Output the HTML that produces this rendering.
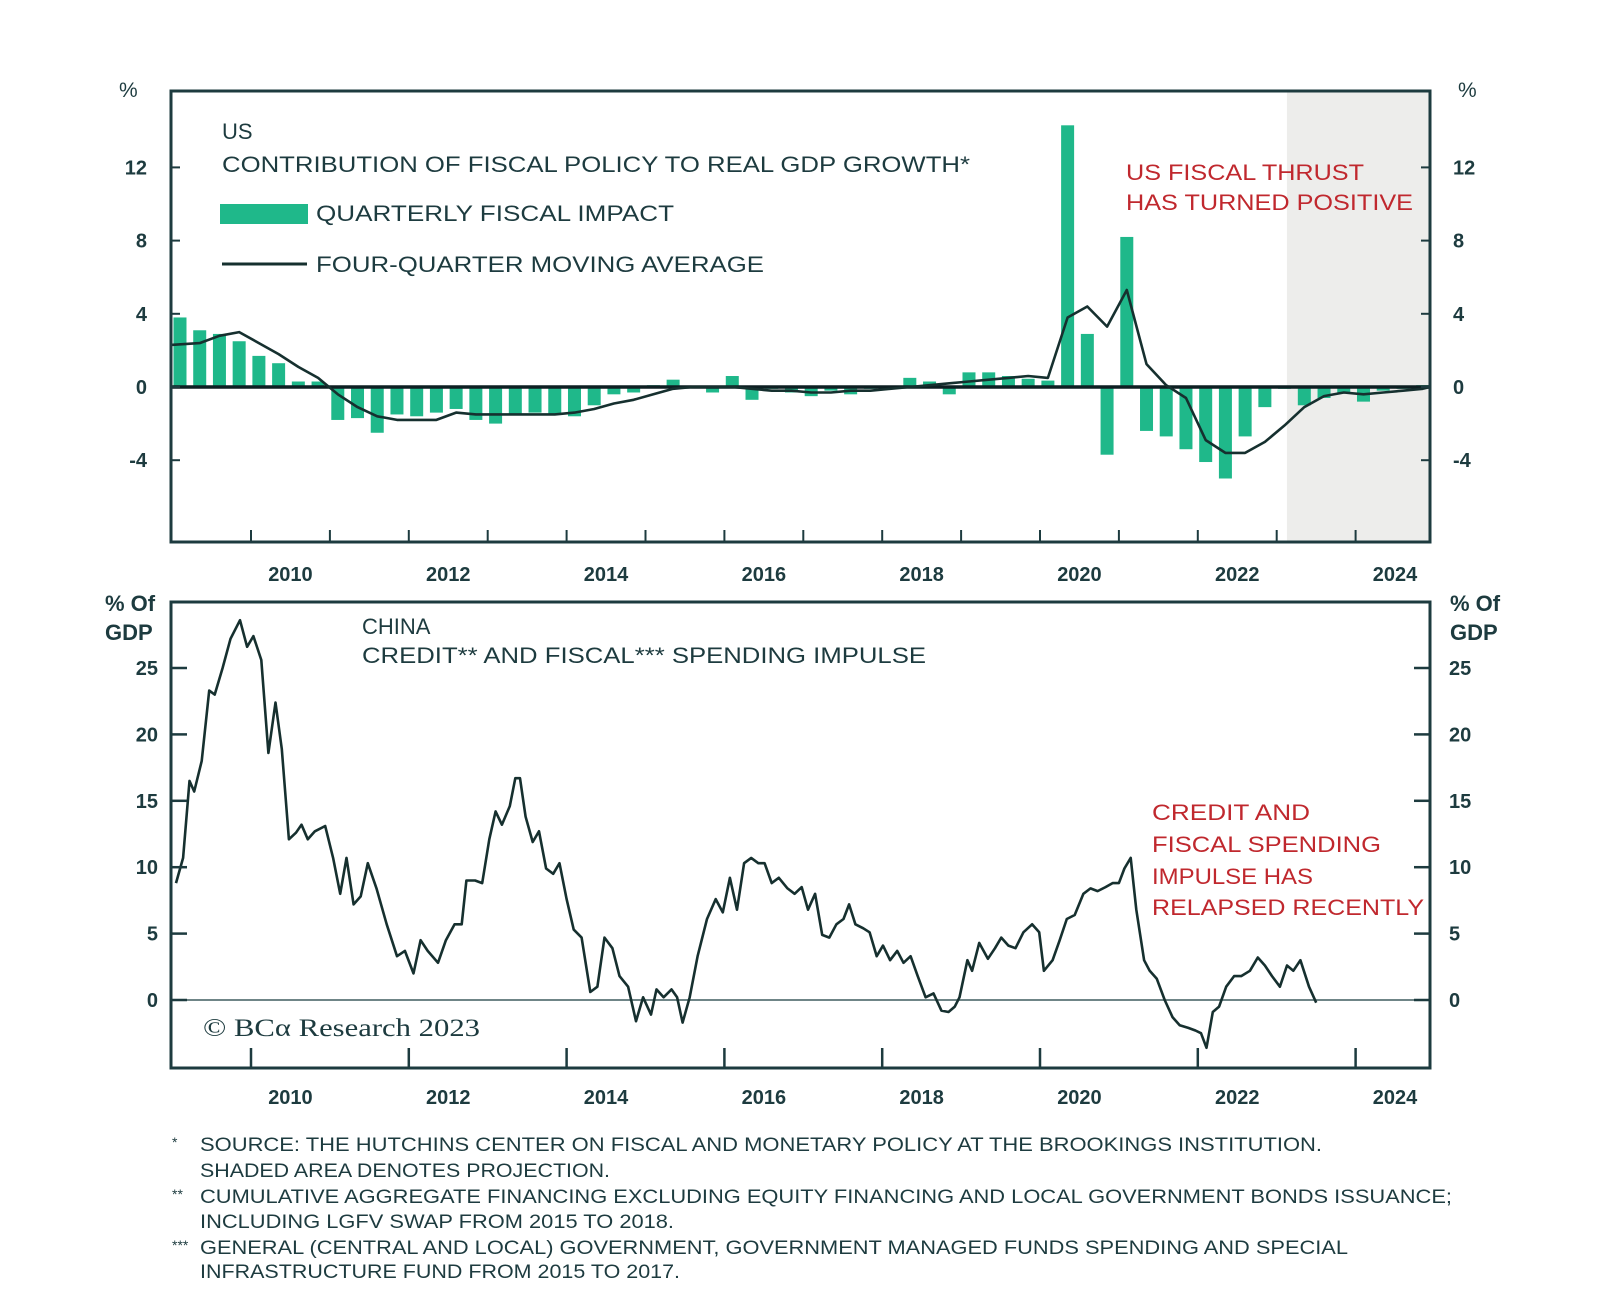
<!DOCTYPE html>
<html><head><meta charset="utf-8"><style>
html,body{margin:0;padding:0;background:#fff;}
svg{display:block;font-family:"Liberation Sans",sans-serif;}
</style></head><body>
<svg id="chart" width="1600" height="1304" viewBox="0 0 1600 1304">
<g id="topPanel"></g>
<g id="botPanel"></g>
</svg>
<script>
// ---------- US data (quarterly, 2009Q1 .. 2024Q4)
const usStartYear = 2009;
const usBars = [3.8,3.1,2.9,2.5, 1.7,1.3,0.3,0.3, -1.8,-1.7,-2.5,-1.5, -1.6,-1.4,-1.2,-1.8,
 -2.0,-1.5,-1.4,-1.5, -1.6,-1.0,-0.4,-0.3, 0.1,0.4,0.0,-0.3, 0.6,-0.7,-0.1,-0.3,
 -0.5,-0.2,-0.4,-0.1, -0.1,0.5,0.3,-0.4, 0.8,0.8,0.6,0.45, 0.35,14.3,2.9,-3.7,
 8.2,-2.4,-2.7,-3.4, -4.1,-5.0,-2.7,-1.1, -0.1,-1.0,-0.6,-0.3, -0.8,-0.2,-0.1,0.1];
const usAvg = [2.3,2.4,2.8,3.0, 2.4,1.8,1.1,0.5, -0.4,-1.1,-1.6,-1.8, -1.8,-1.8,-1.4,-1.5,
 -1.5,-1.5,-1.5,-1.5, -1.4,-1.2,-0.9,-0.7, -0.4,-0.1,0.0,0.0, 0.0,-0.1,-0.2,-0.2,
 -0.3,-0.3,-0.2,-0.2, -0.1,0.0,0.1,0.2, 0.3,0.4,0.5,0.6, 0.5,3.8,4.4,3.3,
 5.3,1.25,0.1,-0.6, -2.9,-3.6,-3.6,-3.0, -2.1,-1.1,-0.5,-0.3, -0.4,-0.3,-0.2,-0.1];
const usYTicks = [12,8,4,0,-4];
const yearLabels = [2010,2012,2014,2016,2018,2020,2022,2024];
const projectionStart = 2023.13;

// ---------- China data
const cnDates = [2009.05,2009.14,2009.22,2009.28,2009.375,2009.47,2009.54,2009.64,2009.74,2009.86,2009.95,2010.03,2010.13,2010.22,2010.31,2010.39,2010.48,2010.57,2010.64,2010.72,2010.81,2010.94,2011.04,2011.13,2011.21,2011.30,2011.39,2011.48,2011.59,2011.72,2011.85,2011.95,2012.06,2012.15,2012.24,2012.37,2012.47,2012.58,2012.67,2012.73,2012.84,2012.93,2013.02,2013.10,2013.18,2013.28,2013.35,2013.41,2013.48,2013.57,2013.65,2013.74,2013.83,2013.91,2014.00,2014.09,2014.19,2014.30,2014.39,2014.48,2014.58,2014.67,2014.78,2014.88,2014.97,2015.07,2015.14,2015.23,2015.33,2015.40,2015.47,2015.56,2015.66,2015.78,2015.89,2015.98,2016.07,2016.16,2016.25,2016.34,2016.43,2016.51,2016.60,2016.69,2016.80,2016.89,2016.98,2017.06,2017.15,2017.24,2017.33,2017.42,2017.51,2017.58,2017.66,2017.76,2017.84,2017.93,2018.01,2018.10,2018.19,2018.27,2018.36,2018.45,2018.55,2018.65,2018.75,2018.84,2018.92,2018.98,2019.08,2019.14,2019.23,2019.34,2019.43,2019.51,2019.60,2019.69,2019.79,2019.90,2019.99,2020.05,2020.16,2020.25,2020.34,2020.44,2020.55,2020.64,2020.73,2020.83,2020.92,2021.00,2021.07,2021.15,2021.22,2021.32,2021.39,2021.48,2021.58,2021.68,2021.77,2021.88,2021.97,2022.04,2022.11,2022.19,2022.27,2022.36,2022.46,2022.55,2022.66,2022.76,2022.85,2022.94,2023.04,2023.13,2023.21,2023.30,2023.41,2023.50];
const cnValues = [8.8,10.7,16.5,15.7,18,23.3,23,25,27.2,28.6,26.6,27.4,25.6,18.6,22.4,18.9,12.1,12.6,13.2,12.1,12.7,13.1,10.7,8,10.7,7.2,7.8,10.3,8.4,5.7,3.3,3.7,2,4.5,3.7,2.8,4.5,5.7,5.7,9,9,8.8,12.1,14.2,13.2,14.6,16.7,16.7,13.8,11.9,12.7,9.9,9.5,10.3,7.6,5.3,4.7,0.6,1,4.7,3.9,1.8,1,-1.6,0.2,-1.1,0.8,0.2,0.8,0.2,-1.7,0.2,3.3,6.1,7.6,6.6,9.2,6.8,10.3,10.7,10.3,10.3,8.8,9.2,8.4,8,8.5,6.8,8,4.9,4.7,5.7,6.1,7.2,5.7,5.4,5.1,3.3,4.1,3,3.7,2.8,3.3,1.8,0.2,0.5,-0.8,-0.9,-0.5,0.2,3,2.2,4.3,3.1,3.9,4.7,4.1,3.9,5.1,5.7,5.1,2.2,3,4.5,6.1,6.4,8,8.4,8.2,8.5,8.8,8.8,9.9,10.7,6.8,3,2.2,1.6,0,-1.3,-1.9,-2.1,-2.3,-2.5,-3.6,-0.9,-0.5,1,1.8,1.8,2.2,3.2,2.6,1.8,1,2.6,2.2,3,1,-0.2];
const cnYTicks = [25,20,15,10,5,0];

const NS='http://www.w3.org/2000/svg';
const INK='#1d3b3f', GREEN='#1fb88a', RED='#c0282e';
function mk(parent,tag,attrs,text){const el=document.createElementNS(NS,tag);for(const k in attrs)el.setAttribute(k,attrs[k]);if(text!==undefined)el.textContent=text;parent.appendChild(el);return el;}

const L=171, R=1430;
const xT = t => 251 + (t-2010)*78.9;
const yT = v => 387 - v*18.3;
const yB = v => 1000 - v*13.28;
const TT=91, TB=542, BT=602, BB=1068;

const svgRoot=document.getElementById('chart');
const topG=document.getElementById('topPanel');
const botG=document.getElementById('botPanel');
let e;

// ===== TOP PANEL
e=mk(topG,'rect',{x:xT(projectionStart),y:TT,width:R-xT(projectionStart),height:TB-TT,fill:'#ededeb'});


usBars.forEach((v,i)=>{
  const t=usStartYear+i*0.25+0.1;
  const y0=yT(0), y1=yT(v);
  const b=mk(topG,'rect',{x:xT(t)-6.5,y:Math.min(y0,y1),width:13,height:Math.abs(y1-y0),fill:GREEN});
  
  
});
e=mk(topG,'line',{x1:L,x2:R,y1:yT(0),y2:yT(0),stroke:'#0d1f22','stroke-width':3.5});


const avgPts=usAvg.map((v,i)=>{const t=usStartYear+i*0.25+0.1;return (i===0?L:xT(t)).toFixed(1)+','+yT(v).toFixed(1);});
avgPts.push(R+','+yT(0));
e=mk(topG,'polyline',{points:avgPts.join(' '),fill:'none',stroke:'#16302f','stroke-width':2.6,'stroke-linejoin':'round'});


e=mk(topG,'rect',{x:L,y:TT,width:R-L,height:TB-TT,fill:'none',stroke:INK,'stroke-width':3});


usYTicks.forEach(v=>{
  const y=yT(v);
  mk(topG,'line',{x1:L,x2:L+9,y1:y,y2:y,stroke:INK,'stroke-width':2});
  mk(topG,'line',{x1:R-9,x2:R,y1:y,y2:y,stroke:INK,'stroke-width':2});
  e=mk(topG,'text',{x:147,y:y+7,'text-anchor':'end','font-size':20,'font-weight':'bold',fill:INK},String(v));
  
  
  e=mk(topG,'text',{x:1453,y:y+7,'font-size':20,'font-weight':'bold',fill:INK},String(v));
  
  
});
for(let yr=2010;yr<=2024;yr++){mk(topG,'line',{x1:xT(yr),x2:xT(yr),y1:TB,y2:TB-12,stroke:INK,'stroke-width':2});}
yearLabels.forEach(yr=>{
  e=mk(topG,'text',{x:xT(yr+0.5),y:581,'text-anchor':'middle','font-size':20,'font-weight':'bold',fill:INK},String(yr));
  
  
});
e=mk(topG,'text',{x:119,y:97,'font-size':21,fill:INK},'%');


e=mk(topG,'text',{x:1458,y:97,'font-size':21,fill:INK},'%');


e=mk(topG,'text',{x:222,y:139,'font-size':22,fill:INK},'US');


e=mk(topG,'text',{x:222,y:172,'font-size':22,fill:INK,textLength:748,lengthAdjust:'spacingAndGlyphs'},'CONTRIBUTION OF FISCAL POLICY TO REAL GDP GROWTH*');


e=mk(topG,'rect',{x:220,y:204,width:88,height:20,fill:GREEN});


e=mk(topG,'text',{x:316,y:221,'font-size':22,fill:INK,textLength:358,lengthAdjust:'spacingAndGlyphs'},'QUARTERLY FISCAL IMPACT');


e=mk(topG,'line',{x1:222,x2:307,y1:264,y2:264,stroke:'#16302f','stroke-width':3});


e=mk(topG,'text',{x:316,y:272,'font-size':22,fill:INK,textLength:448,lengthAdjust:'spacingAndGlyphs'},'FOUR-QUARTER MOVING AVERAGE');


e=mk(topG,'text',{x:1126,y:180,'font-size':22,fill:RED,textLength:238,lengthAdjust:'spacingAndGlyphs'},'US FISCAL THRUST');


e=mk(topG,'text',{x:1126,y:210,'font-size':22,fill:RED,textLength:287,lengthAdjust:'spacingAndGlyphs'},'HAS TURNED POSITIVE');



// ===== BOTTOM PANEL
e=mk(botG,'line',{x1:L,x2:R,y1:yB(0),y2:yB(0),stroke:'#6f8587','stroke-width':2});


const cnPts=cnDates.map((t,i)=>xT(t).toFixed(1)+','+yB(cnValues[i]).toFixed(1));
e=mk(botG,'polyline',{points:cnPts.join(' '),fill:'none',stroke:'#16302f','stroke-width':2.6,'stroke-linejoin':'round'});


e=mk(botG,'rect',{x:L,y:BT,width:R-L,height:BB-BT,fill:'none',stroke:INK,'stroke-width':3});


cnYTicks.forEach(v=>{
  const y=yB(v);
  mk(botG,'line',{x1:L,x2:L+16,y1:y,y2:y,stroke:INK,'stroke-width':2.5});
  mk(botG,'line',{x1:R-16,x2:R,y1:y,y2:y,stroke:INK,'stroke-width':2.5});
  e=mk(botG,'text',{x:158,y:y+7,'text-anchor':'end','font-size':20,'font-weight':'bold',fill:INK},String(v));
  
  
  e=mk(botG,'text',{x:1449,y:y+7,'font-size':20,'font-weight':'bold',fill:INK},String(v));
  
  
});
for(let yr=2010;yr<=2024;yr+=2){mk(botG,'line',{x1:xT(yr),x2:xT(yr),y1:BB,y2:BB-20,stroke:INK,'stroke-width':2.5});}
yearLabels.forEach(yr=>{
  e=mk(botG,'text',{x:xT(yr+0.5),y:1104,'text-anchor':'middle','font-size':20,'font-weight':'bold',fill:INK},String(yr));
  
  
});
[['% Of',611],['GDP',640]].forEach(([s,y])=>{
  e=mk(botG,'text',{x:105,y:y,'font-size':22,'font-weight':'bold',fill:INK},s);
  
  
  e=mk(botG,'text',{x:1450,y:y,'font-size':22,'font-weight':'bold',fill:INK},s);
  
  
});
e=mk(botG,'text',{x:362,y:634,'font-size':22,fill:INK},'CHINA');


e=mk(botG,'text',{x:362,y:663,'font-size':22,fill:INK,textLength:564,lengthAdjust:'spacingAndGlyphs'},'CREDIT** AND FISCAL*** SPENDING IMPULSE');


[['CREDIT AND',820,158],['FISCAL SPENDING',852,229],['IMPULSE HAS',884,161],['RELAPSED RECENTLY',915,272]].forEach(([s,y,w])=>{
  e=mk(botG,'text',{x:1152,y:y,'font-size':22,fill:RED,textLength:w,lengthAdjust:'spacingAndGlyphs'},s);
  
  
});
e=mk(botG,'text',{x:203,y:1036,'font-size':25,fill:INK,'font-family':'"Liberation Serif",serif',textLength:277,lengthAdjust:'spacingAndGlyphs'},'© BCα Research 2023');



// ===== FOOTNOTES
const notes=[['*',1151,'SOURCE: THE HUTCHINS CENTER ON FISCAL AND MONETARY POLICY AT THE BROOKINGS INSTITUTION.',1122],
 ['',1177,'SHADED AREA DENOTES PROJECTION.',410],
 ['**',1203,'CUMULATIVE AGGREGATE FINANCING EXCLUDING EQUITY FINANCING AND LOCAL GOVERNMENT BONDS ISSUANCE;',1252],
 ['',1228,'INCLUDING LGFV SWAP FROM 2015 TO 2018.',474],
 ['***',1254,'GENERAL (CENTRAL AND LOCAL) GOVERNMENT, GOVERNMENT MANAGED FUNDS SPENDING AND SPECIAL',1148],
 ['',1278,'INFRASTRUCTURE FUND FROM 2015 TO 2017.',480]];
notes.forEach(([m,y,s,w])=>{
  if(m){e=mk(svgRoot,'text',{x:172,y:y-4,'font-size':14,fill:INK},m);
   
   }
  e=mk(svgRoot,'text',{x:200,y:y,'font-size':19,fill:INK,textLength:w,lengthAdjust:'spacingAndGlyphs'},s);
  
  
});
</script>
</body></html>
